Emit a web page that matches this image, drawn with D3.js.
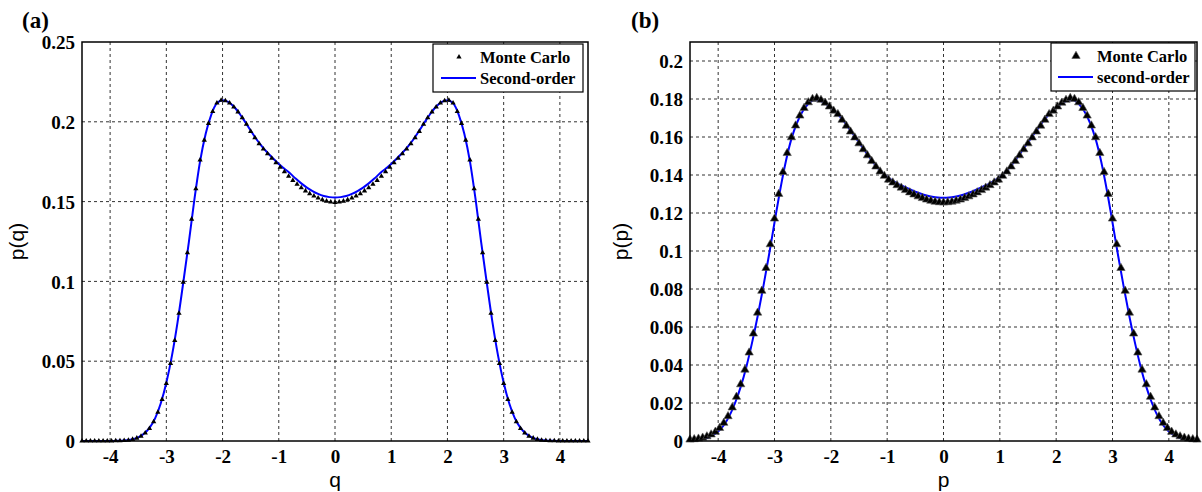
<!DOCTYPE html>
<html><head><meta charset="utf-8">
<script src="https://cdn.jsdelivr.net/npm/d3@7"></script>
<style>
html,body{margin:0;padding:0;background:#fff;}
svg{display:block;}
</style></head>
<body>
<script>
// ---------------- data ----------------
const xTicks = [-4, -3, -2, -1, 0, 1, 2, 3, 4];
const yTicksA = [0, 0.05, 0.1, 0.15, 0.2, 0.25];
const yTickLabelsA = ["0", "0.05", "0.1", "0.15", "0.2", "0.25"];
const yTicksB = [0, 0.02, 0.04, 0.06, 0.08, 0.1, 0.12, 0.14, 0.16, 0.18, 0.2];
const yTickLabelsB = ["0", "0.02", "0.04", "0.06", "0.08", "0.1", "0.12", "0.14", "0.16", "0.18", "0.2"];
const legendA = ["Monte Carlo", "Second-order"];
const legendB = ["Monte Carlo", "second-order"];

// Monte Carlo histogram: x from -4.5 step 0.075
const mcStart = -4.5, mcStep = 0.075;
const mcA = [0,0,0,0,0,0,0,0,0.0001,0.0001,0.0003,0.0005,0.0010,0.0018,0.0030,0.0050,0.0078,0.0120,0.0180,0.0260,0.0360,0.0485,0.0630,0.0800,0.0995,0.1180,0.1390,0.1580,0.1760,0.1885,0.1990,0.2065,0.2118,0.2135,0.2132,0.2118,0.2093,0.2062,0.2025,0.1985,0.1940,0.1900,0.1862,0.1830,0.1800,0.1772,0.1743,0.1715,0.1687,0.1659,0.1633,0.1609,0.1587,0.1567,0.1550,0.1535,0.1522,0.1512,0.1503,0.1497,
0.1495,0.1497,0.1503,0.1512,0.1522,0.1535,0.1550,0.1567,0.1587,0.1609,0.1633,0.1659,0.1687,0.1715,0.1743,0.1772,0.1800,0.1830,0.1862,0.1900,0.1940,0.1985,0.2025,0.2062,0.2093,0.2118,0.2132,0.2135,0.2118,0.2065,0.1990,0.1885,0.1760,0.1580,0.1390,0.1180,0.0995,0.0800,0.0630,0.0485,0.0360,0.0260,0.0180,0.0120,0.0078,0.0050,0.0030,0.0018,0.0010,0.0005,0.0003,0.0001,0.0001,0,0,0,0,0,0,0,0];
const mcB = [0.0007,0.0009,0.0012,0.0017,0.0024,0.0034,0.0048,0.0068,0.0095,0.0130,0.0176,0.0232,0.0298,0.0375,0.0465,0.0565,0.0675,0.0790,0.0910,0.1035,0.1170,0.1300,0.1415,0.1515,0.1598,0.1660,0.1712,0.1752,0.1782,0.1800,0.1805,0.1795,0.1780,0.1760,0.1738,0.1720,0.1690,0.1659,0.1628,0.1597,0.1566,0.1535,0.1503,0.1473,0.1444,0.1418,0.1395,0.1375,0.1360,0.1346,0.1333,0.1320,0.1308,0.1297,0.1287,0.1278,0.1270,0.1264,0.1259,0.1256,
0.1255,0.1256,0.1259,0.1264,0.1270,0.1278,0.1287,0.1297,0.1308,0.1320,0.1333,0.1346,0.1360,0.1375,0.1395,0.1418,0.1444,0.1473,0.1503,0.1535,0.1566,0.1597,0.1628,0.1659,0.1690,0.1720,0.1738,0.1760,0.1780,0.1795,0.1805,0.1800,0.1782,0.1752,0.1712,0.1660,0.1598,0.1515,0.1415,0.1300,0.1170,0.1035,0.0910,0.0790,0.0675,0.0565,0.0465,0.0375,0.0298,0.0232,0.0176,0.0130,0.0095,0.0068,0.0048,0.0034,0.0024,0.0017,0.0012,0.0009,0.0007];

// Second-order solution: x from -4.5 step 0.1
const soStart = -4.5, soStep = 0.1;
const soA = [0,0,0,0,0,0,0.0001,0.0002,0.0005,0.0011,0.0023,0.0045,0.0082,0.0142,0.0235,0.0365,0.0535,0.0745,0.0990,0.1245,0.1515,0.1752,0.1925,0.2045,0.2117,0.2135,0.2125,0.2096,0.2052,0.2000,0.1945,0.1892,0.1846,0.1806,0.1770,0.1736,0.1706,0.1677,0.1644,0.1614,0.1588,0.1566,0.1548,0.1535,0.1528,
0.1525,0.1528,0.1535,0.1548,0.1566,0.1588,0.1614,0.1644,0.1677,0.1706,0.1736,0.1770,0.1806,0.1846,0.1892,0.1945,0.2000,0.2052,0.2096,0.2125,0.2135,0.2117,0.2045,0.1925,0.1752,0.1515,0.1245,0.0990,0.0745,0.0535,0.0365,0.0235,0.0142,0.0082,0.0045,0.0023,0.0011,0.0005,0.0002,0.0001,0,0,0,0,0,0];
const soB = [0.0002,0.0004,0.0008,0.0016,0.0029,0.0050,0.0083,0.0132,0.0200,0.0285,0.0390,0.0515,0.0655,0.0810,0.0975,0.1150,0.1320,0.1470,0.1590,0.1675,0.1735,0.1775,0.1795,0.1792,0.1777,0.1756,0.1728,0.1695,0.1655,0.1613,0.1572,0.1530,0.1488,0.1448,0.1416,0.1390,0.1370,0.1352,0.1339,0.1325,0.1312,0.1301,0.1292,0.1285,0.1281,
0.1280,0.1281,0.1285,0.1292,0.1301,0.1312,0.1325,0.1339,0.1352,0.1370,0.1390,0.1416,0.1448,0.1488,0.1530,0.1572,0.1613,0.1655,0.1695,0.1728,0.1756,0.1777,0.1792,0.1795,0.1775,0.1735,0.1675,0.1590,0.1470,0.1320,0.1150,0.0975,0.0810,0.0655,0.0515,0.0390,0.0285,0.0200,0.0132,0.0083,0.0050,0.0029,0.0016,0.0008,0.0004,0.0002];

// ---------------- drawing ----------------
const W = 1202, H = 492;
const svg = d3.select("body").append("svg").attr("width", W).attr("height", H);
const SERIF = "'Liberation Serif','Times New Roman',serif";
const SANS = "'Liberation Sans',Arial,sans-serif";

function panel(cfg) {
  const x = d3.scaleLinear().domain([-4.5, 4.5]).range([cfg.left, cfg.right]);
  const y = d3.scaleLinear().domain([0, cfg.yMax]).range([cfg.bottom, cfg.top]);
  const g = svg.append("g");

  // grid
  g.append("g").selectAll("line").data(xTicks).join("line")
    .attr("x1", d => x(d)).attr("x2", d => x(d))
    .attr("y1", cfg.top).attr("y2", cfg.bottom)
    .attr("stroke", "#333").attr("stroke-width", 1).attr("stroke-dasharray", "3,3");
  g.append("g").selectAll("line").data(cfg.yTicks.filter(d => d > 0 && d < cfg.yMax - 1e-9)).join("line")
    .attr("x1", cfg.left).attr("x2", cfg.right)
    .attr("y1", d => y(d)).attr("y2", d => y(d))
    .attr("stroke", "#333").attr("stroke-width", 1).attr("stroke-dasharray", "3,3");

  // axes (labels only, MATLAB style)
  const xAxis = d3.axisBottom(x).tickValues(xTicks).tickSize(0).tickPadding(0).tickFormat(d3.format("d"));
  const gx = g.append("g").attr("transform", `translate(0,${cfg.bottom})`).call(xAxis);
  gx.select(".domain").remove();
  gx.selectAll("text").attr("font-family", SERIF).attr("font-weight", "bold").attr("font-size", 19)
    .attr("fill", "#000").attr("dy", null).attr("y", 22).text(d => d < 0 ? "-" + Math.abs(d) : String(d));

  const yAxis = d3.axisLeft(y).tickValues(cfg.yTicks).tickSize(0).tickPadding(0)
    .tickFormat((d, i) => cfg.yLabels[i]);
  const gy = g.append("g").attr("transform", `translate(${cfg.left},0)`).call(yAxis);
  gy.select(".domain").remove();
  gy.selectAll("text").attr("font-family", SERIF).attr("font-weight", "bold").attr("font-size", 19)
    .attr("fill", "#000").attr("x", -7).attr("dy", "0.35em");

  // curve
  const line = d3.line().x((d, i) => x(soStart + i * soStep)).y(d => y(d)).curve(d3.curveMonotoneX);
  g.append("path").datum(cfg.so).attr("d", line).attr("fill", "none")
    .attr("stroke", "#0000ff").attr("stroke-width", 2);

  // markers
  const sym = d3.symbol().type(d3.symbolTriangle).size(cfg.mSize);
  g.append("g").selectAll("path").data(cfg.mc).join("path")
    .attr("transform", (d, i) => `translate(${x(mcStart + i * mcStep)},${y(d)})`)
    .attr("d", sym).attr("fill", "#000").attr("stroke", cfg.mStroke).attr("stroke-width", 0.6);

  // box
  g.append("rect").attr("x", cfg.left).attr("y", cfg.top)
    .attr("width", cfg.right - cfg.left).attr("height", cfg.bottom - cfg.top)
    .attr("fill", "none").attr("stroke", "#000").attr("stroke-width", 1.5);

  // axis titles
  g.append("text").attr("x", x(0)).attr("y", cfg.bottom + 46).attr("text-anchor", "middle")
    .attr("font-family", SANS).attr("font-size", 21).text(cfg.xTitle);
  g.append("text").attr("transform", `translate(${cfg.yTitleX},${(cfg.top + cfg.bottom) / 2}) rotate(-90)`)
    .attr("text-anchor", "middle").attr("font-family", SANS).attr("font-size", 21).text(cfg.yTitle);

  // panel label
  g.append("text").attr("x", cfg.tagX).attr("y", 28).attr("font-family", SERIF)
    .attr("font-weight", "bold").attr("font-size", 23).text(cfg.tag);

  // legend
  const L = cfg.leg;
  g.append("rect").attr("x", L.x).attr("y", L.y).attr("width", L.w).attr("height", L.h)
    .attr("fill", "#fff").attr("stroke", "#000").attr("stroke-width", 1.2);
  g.append("path").attr("transform", `translate(${L.mx},${L.y + 13})`).attr("d", sym)
    .attr("fill", "#000").attr("stroke", cfg.mStroke).attr("stroke-width", 0.6);
  g.append("line").attr("x1", L.lx1).attr("x2", L.lx2).attr("y1", L.y + 34).attr("y2", L.y + 34)
    .attr("stroke", "#0000ff").attr("stroke-width", 2);
  g.selectAll(null).data(cfg.legText).join("text")
    .attr("x", L.tx).attr("y", (d, i) => L.y + 19 + i * 21)
    .attr("font-family", SERIF).attr("font-weight", "bold").attr("font-size", 16.5).text(d => d);
}

panel({
  left: 82, right: 588, top: 42, bottom: 441, yMax: 0.25,
  yTicks: yTicksA, yLabels: yTickLabelsA, so: soA, mc: mcA, mSize: 12, mStroke: "none",
  xTitle: "q", yTitle: "p(q)", yTitleX: 24, tag: "(a)", tagX: 22, legText: legendA,
  leg: { x: 433, y: 44, w: 150, h: 48, mx: 459, lx1: 441, lx2: 476, tx: 480 }
});
panel({
  left: 690, right: 1197, top: 42, bottom: 441, yMax: 0.21,
  yTicks: yTicksB, yLabels: yTickLabelsB, so: soB, mc: mcB, mSize: 30, mStroke: "#555",
  xTitle: "p", yTitle: "p(p)", yTitleX: 628, tag: "(b)", tagX: 631, legText: legendB,
  leg: { x: 1051, y: 43, w: 144, h: 48, mx: 1076, lx1: 1058, lx2: 1093, tx: 1097 }
});
</script>
</body></html>
